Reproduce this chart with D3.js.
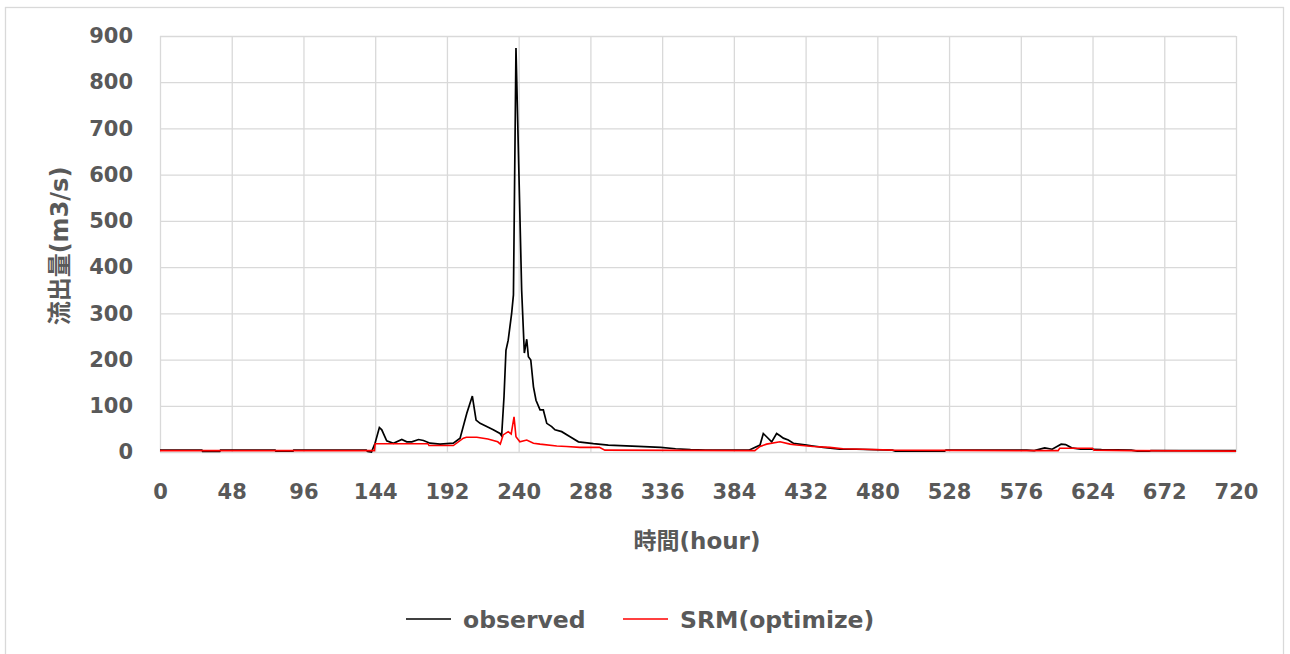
<!DOCTYPE html>
<html>
<head>
<meta charset="utf-8">
<script src="https://cdn.jsdelivr.net/npm/d3@7"></script>
<style>
  body { margin: 0; background: #fff; }
  text { font-family: "DejaVu Sans", "Noto Sans CJK JP", sans-serif; font-weight: bold; fill: #595959; }
</style>
</head>
<body>
<svg id="chart" width="1290" height="654"></svg>
<script>
// observed discharge (hour, m3/s) - breakpoints
var obsHour = [0, 28, 28.5, 40, 40.5, 77, 77.5, 89, 89.5, 138, 139, 141.5, 143.9, 146.8, 148.4, 151.7, 156.2,
    161.8, 165.1, 168.5, 173, 176.3, 180.7, 187.4, 196.3, 200.8, 205.3, 209, 211.5, 214.2, 218.6, 223,
    227.5, 228.6, 230.2, 231.5, 233, 235.3, 236.5, 238.2, 242, 243.8, 245.4, 246.5, 248.1, 249.9, 251.6,
    254.3, 256.5, 258.8, 262.1, 264.3, 268.8, 274.4, 280, 290, 300, 320, 335, 345, 355, 365, 394,
    401.5, 403.7, 405.9, 409.3, 412.6, 414.9, 417.1, 420.4, 423.8, 432.7, 437, 443.8, 454.9, 466, 490,
    492, 525, 526, 580, 585, 592, 597, 603, 606, 610, 616, 624, 630, 650, 654, 662, 663, 720];
var obsFlow = [4, 4, 1.5, 1.5, 4, 4, 2, 2, 4, 4, 1, 0, 19, 53, 48, 24, 19,
    27, 22, 22, 27, 25, 19, 17, 19, 30, 84, 121, 69, 62, 55, 48,
    40, 35, 120, 220, 242, 300, 340, 874, 350, 214, 244, 206, 199, 141, 112,
    91, 91, 62, 55, 48, 44, 33, 22, 18, 15, 12, 10, 7, 5, 4, 4,
    15, 40, 33, 22, 40, 35, 30, 26, 19, 15, 13, 10, 6, 6, 4,
    2, 2, 4, 4, 3, 9, 6, 17, 16, 9, 6, 6, 5, 4, 2, 2, 3, 3];

// SRM(optimize) simulated discharge
var srmHour = [0, 143.5, 144, 179.3, 180, 196.3, 203, 205, 212, 219.4, 226, 227.7, 229.6, 233, 235,
    236.9, 238.2, 240.8, 245.4, 249.9, 254.3, 265.5, 272, 281, 294, 297.7, 398, 401.5, 405.9, 414.9,
    421.6, 426, 437, 448.1, 457, 470.4, 490.5, 576, 601, 602, 624, 625, 650, 720];
var srmFlow = [3, 3, 18, 18, 14, 14, 30, 32, 32, 28, 22, 17, 37, 44, 39,
    76, 33, 22, 26, 19, 17, 13, 12, 10, 10, 4, 3, 12, 17, 22,
    17, 15, 12, 10, 7, 6, 4, 3, 3, 8, 8, 4, 3, 2];

var xTicks = [0, 48, 96, 144, 192, 240, 288, 336, 384, 432, 480, 528, 576, 624, 672, 720];
var yTicks = [0, 100, 200, 300, 400, 500, 600, 700, 800, 900];
var seriesNames = ["observed", "SRM(optimize)"];
var seriesColors = ["#000000", "#ff0000"];

var svg = d3.select("#chart");
var plotLeft = 160, plotRight = 1236, plotTop = 36, plotBottom = 452;

svg.append("rect")
    .attr("x", 5.5).attr("y", 7.5)
    .attr("width", 1278).attr("height", 700)
    .attr("fill", "#fff").attr("stroke", "#d9d9d9").attr("stroke-width", 1.3);

var x = d3.scaleLinear().domain([0, 720]).range([plotLeft, plotRight]);
var y = d3.scaleLinear().domain([0, 900]).range([plotBottom, plotTop]);

// grid + labels
var gy = svg.append("g").attr("transform", "translate(" + plotLeft + ",0)")
    .call(d3.axisLeft(y).tickValues(yTicks).tickSize(-(plotRight - plotLeft)).tickPadding(27));
var gx = svg.append("g").attr("transform", "translate(0," + plotBottom + ")")
    .call(d3.axisBottom(x).tickValues(xTicks).tickSize(-(plotBottom - plotTop)).tickPadding(32));

[gx, gy].forEach(function(g) {
    g.select(".domain").remove();
    g.selectAll(".tick line").attr("stroke", "#d9d9d9").attr("stroke-width", 1.3);
    g.selectAll(".tick text").style("font-size", "21px").attr("fill", "#595959");
});

var line = d3.line()
    .x(function(d) { return x(d[0]); })
    .y(function(d) { return y(d[1]); });

var obsData = d3.zip(obsHour, obsFlow);
var srmData = d3.zip(srmHour, srmFlow);

svg.append("path").datum(obsData)
    .attr("d", line).attr("fill", "none")
    .attr("stroke", seriesColors[0]).attr("stroke-width", 1.7);
svg.append("path").datum(srmData)
    .attr("d", line).attr("fill", "none")
    .attr("stroke", seriesColors[1]).attr("stroke-width", 1.6);

// axis titles
svg.append("text")
    .attr("x", 697).attr("y", 549)
    .attr("text-anchor", "middle")
    .style("font-size", "23px")
    .text("時間(hour)");

svg.append("text")
    .attr("transform", "translate(68,246) rotate(-90)")
    .attr("text-anchor", "middle")
    .style("font-size", "24px")
    .text("流出量(m3/s)");

// legend
var legendX = [406, 623];
seriesNames.forEach(function(name, i) {
    svg.append("line")
        .attr("x1", legendX[i]).attr("x2", legendX[i] + 45)
        .attr("y1", 619).attr("y2", 619)
        .attr("stroke", seriesColors[i]).attr("stroke-width", 1.6);
    svg.append("text")
        .attr("x", legendX[i] + 57).attr("y", 628)
        .style("font-size", "23.5px")
        .text(name);
});
</script>
</body>
</html>
